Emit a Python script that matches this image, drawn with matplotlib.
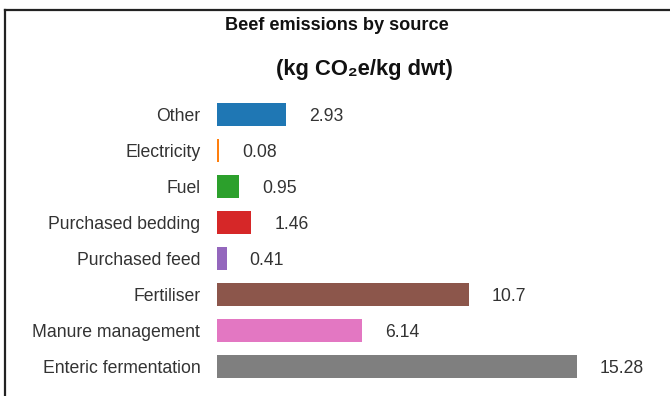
import matplotlib
matplotlib.use("Agg")
import matplotlib.pyplot as plt
from matplotlib.lines import Line2D

plt.rcParams['font.family'] = ['Liberation Sans', 'DejaVu Sans']

categories = ["Other", "Electricity", "Fuel", "Purchased bedding",
              "Purchased feed", "Fertiliser", "Manure management",
              "Enteric fermentation"]
values = [2.93, 0.08, 0.95, 1.46, 0.41, 10.7, 6.14, 15.28]
value_labels = ["2.93", "0.08", "0.95", "1.46", "0.41", "10.7", "6.14", "15.28"]
colors = ["#1f77b4", "#ff7f0e", "#2ca02c", "#d62728",
          "#9467bd", "#8c564b", "#e377c2", "#7f7f7f"]

W, H = 670, 396
fig = plt.figure(figsize=(W / 100, H / 100), dpi=100)

# axes placed in pixel units
x0, x1 = 217, 217 + 16 * 23.56
y_top, y_bot = 97, 384
ax = fig.add_axes([x0 / W, 1 - y_bot / H, (x1 - x0) / W, (y_bot - y_top) / H])

ypos = list(range(len(categories)))
ax.barh(ypos, values, height=0.64, color=colors)
ax.set_xlim(0, 16)
ax.set_ylim(len(categories) - 0.5, -0.5)
ax.set_yticks(ypos)
ax.set_yticklabels(categories, fontsize=12.7, color="#333333")
ax.tick_params(axis="y", length=0, pad=12)
ax.set_xticks([])
for s in ax.spines.values():
    s.set_visible(False)

for y, v, lab in zip(ypos, values, value_labels):
    ax.annotate(lab, xy=(v, y), xytext=(23, 0), textcoords="offset pixels",
                va="center_baseline", ha="left", fontsize=12.7, color="#333333")

fig.text(337 / W, 1 - 26 / H, "Beef emissions by source", ha="center",
         va="center", fontsize=13.1, fontweight="bold", color="#111111")
fig.text(364.5 / W, 1 - 70 / H, "(kg CO\u2082e/kg dwt)", ha="center",
         va="center", fontsize=15.8, fontweight="bold", color="#111111")

# frame lines along the top and left edges
fig.add_artist(Line2D([5 / W, 1], [1 - 9.5 / H, 1 - 9.5 / H],
                      transform=fig.transFigure, color="#222222", lw=1.6))
fig.add_artist(Line2D([5 / W, 5 / W], [0, 1 - 9.5 / H],
                      transform=fig.transFigure, color="#222222", lw=1.6))

fig.savefig("out.png", dpi=100)
